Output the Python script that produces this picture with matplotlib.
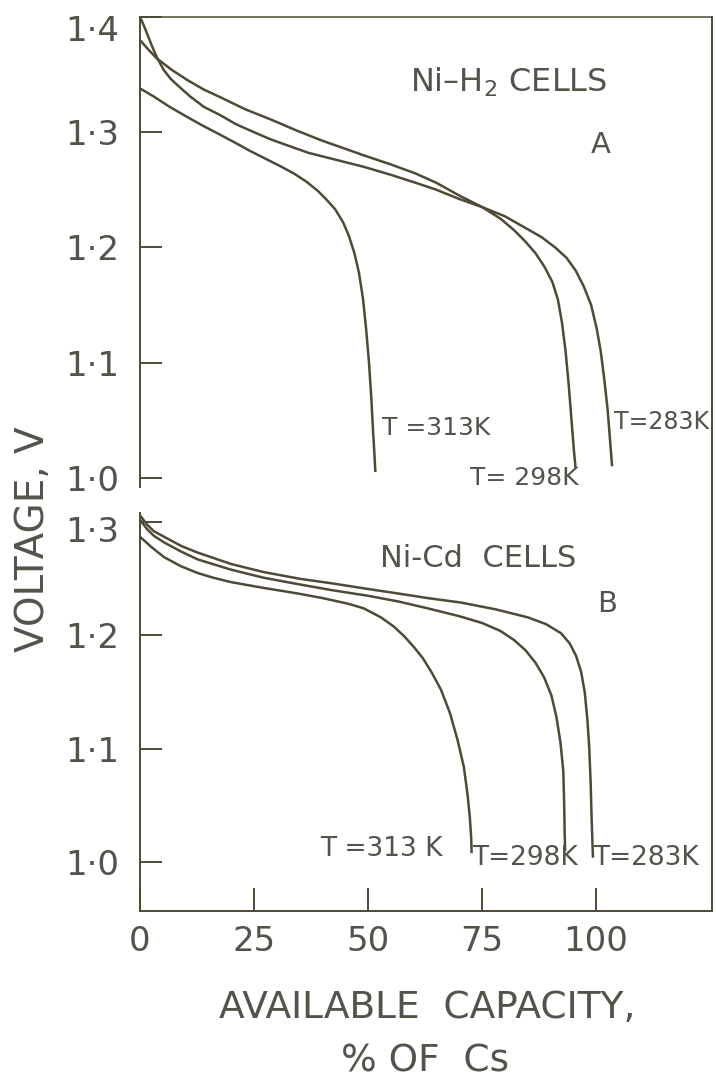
import matplotlib
matplotlib.use("Agg")
import matplotlib.pyplot as plt
from matplotlib.transforms import ScaledTranslation

# ---------------- data ----------------
# Panel A : Ni-H2 cells  (capacity %, voltage V)
h2_283_cap = [0, 0.8, 1.5, 2.6, 3.7, 5.2, 6.8, 9, 11, 14, 17.5, 21, 25, 28.5, 32, 37, 43, 49, 55, 60.5,
              65, 70, 75, 80, 84, 88, 91, 93.5, 95.5, 97.3, 98.9, 100.1, 101, 101.8, 102.5, 103, 103.5]
h2_283_v = [1.400, 1.393, 1.386, 1.375, 1.365, 1.354, 1.346, 1.338, 1.331, 1.322, 1.315, 1.307, 1.300,
            1.294, 1.289, 1.282, 1.276, 1.270, 1.263, 1.256, 1.250, 1.242, 1.235, 1.227, 1.218, 1.209,
            1.200, 1.191, 1.180, 1.166, 1.150, 1.130, 1.110, 1.085, 1.060, 1.035, 1.010]
h2_298_cap = [0, 2, 3.7, 7, 10.5, 14, 17.8, 23, 28.7, 34, 39.7, 44, 49, 55, 60.5, 65, 70, 75, 79, 82,
              84.5, 86.7, 88.7, 90.4, 91.6, 92.5, 93.3, 94.0, 94.6, 95.1, 95.5]
h2_298_v = [1.380, 1.371, 1.364, 1.354, 1.345, 1.337, 1.330, 1.320, 1.311, 1.302, 1.293, 1.287, 1.280,
            1.272, 1.264, 1.256, 1.245, 1.235, 1.225, 1.215, 1.205, 1.195, 1.183, 1.170, 1.155, 1.135,
            1.110, 1.080, 1.050, 1.025, 1.008]
h2_313_cap = [0, 3, 6.5, 10, 13.6, 17, 20.8, 24, 28, 31, 33.8, 36.5, 39, 41, 42.8, 44.5, 45.8, 47, 48,
              48.9, 49.6, 50.2, 50.7, 51.1, 51.4, 51.6]
h2_313_v = [1.338, 1.331, 1.322, 1.314, 1.306, 1.299, 1.291, 1.284, 1.276, 1.270, 1.264, 1.257, 1.249,
            1.241, 1.233, 1.222, 1.210, 1.195, 1.178, 1.155, 1.128, 1.100, 1.070, 1.040, 1.020, 1.005]

# Panel B : Ni-Cd cells
cd_283_cap = [0, 1.5, 3, 5.3, 9, 12.7, 20, 27, 35, 42, 50, 56.6, 63, 70.4, 78, 85, 89, 92.3, 94.2, 95.6,
              96.7, 97.5, 98.1, 98.5, 98.8, 99.0, 99.3]
cd_283_v = [1.306, 1.298, 1.292, 1.287, 1.279, 1.273, 1.263, 1.256, 1.250, 1.246, 1.241, 1.237, 1.233,
            1.229, 1.223, 1.216, 1.210, 1.202, 1.193, 1.182, 1.168, 1.150, 1.125, 1.100, 1.070, 1.040, 1.004]
cd_298_cap = [0, 1.5, 3, 5.3, 9, 12.7, 20, 27, 35, 42, 50, 56.6, 63, 70, 75, 79, 82, 84.5, 86.7, 88.6,
              90.2, 91.3, 92.2, 92.8, 93.0, 93.1, 93.2]
cd_298_v = [1.302, 1.294, 1.288, 1.282, 1.274, 1.267, 1.258, 1.251, 1.245, 1.240, 1.235, 1.230, 1.224,
            1.217, 1.211, 1.204, 1.196, 1.187, 1.176, 1.163, 1.147, 1.128, 1.105, 1.080, 1.050, 1.025, 1.010]
cd_313_cap = [0, 2.5, 5.3, 9, 12.7, 16, 20, 27, 34.6, 40, 45.6, 49, 52.8, 55.6, 58, 60, 62, 64, 66, 68,
              69.6, 71, 71.8, 72.3, 72.6, 72.7]
cd_313_v = [1.287, 1.278, 1.269, 1.261, 1.255, 1.251, 1.247, 1.242, 1.237, 1.233, 1.228, 1.224, 1.216,
            1.208, 1.199, 1.190, 1.180, 1.167, 1.152, 1.131, 1.108, 1.084, 1.060, 1.040, 1.022, 1.008]

x_ticks = [0, 25, 50, 75, 100]
x_ticklabels = ["0", "25", "50", "75", "100"]
a_yticks = [1.0, 1.1, 1.2, 1.3, 1.4]
a_yticklabels = ["1\u00b70", "1\u00b71", "1\u00b72", "1\u00b73", "1\u00b74"]
b_yticks = [1.0, 1.1, 1.2, 1.3]
b_yticklabels = ["1\u00b70", "1\u00b71", "1\u00b72", "1\u00b73"]

# ---------------- style ----------------
plt.rcParams["font.family"] = ["DejaVu Sans"]
LINE = "#4e4a36"
TEXT = "#55524a"

W, H, DPI = 716, 1084, 100
fig = plt.figure(figsize=(W / DPI, H / DPI), dpi=DPI, facecolor="white")


def fx(px):
    return px / W


def fy(py):
    return 1 - py / H


L, R = 140, 712
ax_a = fig.add_axes([fx(L), fy(487), (R - L) / W, (487 - 17) / H])
ax_b = fig.add_axes([fx(L), fy(911), (R - L) / W, (911 - 513) / H])
ax_f = fig.add_axes([fx(L), fy(911), (R - L) / W, (911 - 17) / H], zorder=-1)

# frame axes: only the continuous right border
ax_f.set_xticks([])
ax_f.set_yticks([])
ax_f.patch.set_visible(False)
for s in ["left", "top", "bottom"]:
    ax_f.spines[s].set_visible(False)
ax_f.spines["right"].set_color(LINE)
ax_f.spines["right"].set_linewidth(1.4)

for ax in (ax_a, ax_b):
    ax.patch.set_visible(False)
    ax.set_xlim(0, 125.4)
    ax.spines["right"].set_visible(False)
    for s in ["left", "top", "bottom"]:
        ax.spines[s].set_color(LINE)
        ax.spines[s].set_linewidth(1.4)

ax_a.spines["bottom"].set_visible(False)
ax_a.spines["top"].set_linewidth(1.1)
ax_b.spines["top"].set_visible(False)

ax_a.set_ylim(0.992, 1.4)
ax_b.set_ylim(0.957, 1.308)

lw = 1.8
for cap, v in [(h2_283_cap, h2_283_v), (h2_298_cap, h2_298_v), (h2_313_cap, h2_313_v)]:
    ax_a.plot(cap, v, color=LINE, lw=lw, solid_capstyle="butt", solid_joinstyle="round")
for cap, v in [(cd_283_cap, cd_283_v), (cd_298_cap, cd_298_v), (cd_313_cap, cd_313_v)]:
    ax_b.plot(cap, v, color=LINE, lw=lw, solid_capstyle="butt", solid_joinstyle="round")

# ticks
ax_a.set_xticks([])
ax_a.set_yticks(a_yticks)
ax_a.set_yticklabels(a_yticklabels)
ax_b.set_yticks(b_yticks)
ax_b.set_yticklabels(b_yticklabels)
ax_b.set_xticks(x_ticks)
ax_b.set_xticklabels(x_ticklabels)
for ax in (ax_a, ax_b):
    ax.tick_params(axis="y", direction="in", length=15.5, width=1.4, pad=15,
                   labelsize=24.5, color=LINE, labelcolor=TEXT)
ax_b.tick_params(axis="x", direction="in", length=16.5, width=1.4, pad=10,
                 labelsize=24.5, color=LINE, labelcolor=TEXT)

# nudge the top labels of each panel downwards, as in the drawing
lab = ax_a.get_yticklabels()[-1]
lab.set_transform(lab.get_transform() + ScaledTranslation(0, -8 / 72, fig.dpi_scale_trans))
lab = ax_b.get_yticklabels()[-1]
lab.set_transform(lab.get_transform() + ScaledTranslation(0, -5 / 72, fig.dpi_scale_trans))

# annotations
ax_a.text(59.2, 1.343, "Ni\u2013H$_2$ CELLS", fontsize=23, color=TEXT, ha="left", va="center")
ax_a.text(100.9, 1.289, "A", fontsize=21, color=TEXT, ha="center", va="center")
ax_a.text(53.1, 1.043, "T =313K", fontsize=18, color=TEXT, ha="left", va="center")
ax_a.text(72.4, 1.000, "T= 298K", fontsize=18, color=TEXT, ha="left", va="center")
ax_a.text(104.0, 1.048, "T=283K", fontsize=17, color=TEXT, ha="left", va="center")

ax_b.text(52.6, 1.268, "Ni-Cd  CELLS", fontsize=22, color=TEXT, ha="left", va="center")
ax_b.text(102.4, 1.228, "B", fontsize=21, color=TEXT, ha="center", va="center")
ax_b.text(66.4, 1.012, "T =313 K", fontsize=19, color=TEXT, ha="right", va="center")
ax_b.text(72.8, 1.004, "T=298K", fontsize=19, color=TEXT, ha="left", va="center")
ax_b.text(99.3, 1.004, "T=283K", fontsize=19, color=TEXT, ha="left", va="center")

# axis titles
fig.text(fx(33), fy(539), "VOLTAGE, V", rotation=90, ha="center", va="center",
         fontsize=28, color=TEXT)
fig.text(fx(427), fy(1008), "AVAILABLE  CAPACITY,", ha="center", va="center",
         fontsize=27, color=TEXT)
fig.text(fx(425), fy(1062), "% OF  Cs", ha="center", va="center",
         fontsize=27, color=TEXT)

fig.savefig("out.png", dpi=DPI, facecolor="white")
